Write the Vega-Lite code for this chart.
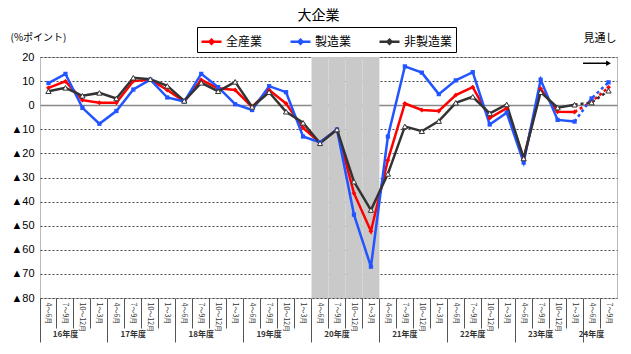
{
  "$schema": "https://vega.github.io/schema/vega-lite/v6.json",
  "width": 577,
  "height": 241,
  "autosize": "none",
  "padding": {"left": 40, "top": 57, "right": 14, "bottom": 56},
  "background": "white",
  "title": {"text": "大企業", "fontSize": 14, "fontWeight": "normal", "font": "Noto Sans CJK JP", "anchor": "middle", "dx": -10, "offset": 4, "color": "#000"},
  "config": {
    "font": "Noto Sans CJK JP",
    "view": {"stroke": "#777", "strokeDash": [1, 1], "strokeWidth": 1}
  },
  "datasets": {
    "bsi": [
      {"period": "16年度 4～6月", "全産業": 7.2, "製造業": 9.2, "非製造業": 5.8, "type": "実績"},
      {"period": "16年度 7～9月", "全産業": 9.9, "製造業": 13.0, "非製造業": 7.2, "type": "実績"},
      {"period": "16年度 10～12月", "全産業": 2.1, "製造業": -1.1, "非製造業": 3.9, "type": "実績"},
      {"period": "16年度 1～3月", "全産業": 1.0, "製造業": -7.7, "非製造業": 5.1, "type": "実績"},
      {"period": "17年度 4～6月", "全産業": 1.0, "製造業": -2.4, "非製造業": 2.8, "type": "実績"},
      {"period": "17年度 7～9月", "全産業": 10.0, "製造業": 6.5, "非製造業": 11.4, "type": "実績"},
      {"period": "17年度 10～12月", "全産業": 10.6, "製造業": 10.6, "非製造業": 10.8, "type": "実績"},
      {"period": "17年度 1～3月", "全産業": 6.3, "製造業": 3.2, "非製造業": 8.0, "type": "実績"},
      {"period": "18年度 4～6月", "全産業": 1.5, "製造業": 1.5, "非製造業": 1.8, "type": "実績"},
      {"period": "18年度 7～9月", "全産業": 10.5, "製造業": 13.0, "非製造業": 9.3, "type": "実績"},
      {"period": "18年度 10～12月", "全産業": 7.0, "製造業": 7.5, "非製造業": 5.8, "type": "実績"},
      {"period": "18年度 1～3月", "全産業": 6.3, "製造業": 0.4, "非製造業": 9.7, "type": "実績"},
      {"period": "19年度 4～6月", "全産業": -0.7, "製造業": -2.0, "非製造業": -0.7, "type": "実績"},
      {"period": "19年度 7～9月", "全産業": 6.3, "製造業": 7.9, "非製造業": 5.4, "type": "実績"},
      {"period": "19年度 10～12月", "全産業": 0.7, "製造業": 5.4, "非製造業": -2.7, "type": "実績"},
      {"period": "19年度 1～3月", "全産業": -9.4, "製造業": -13.0, "非製造業": -7.3, "type": "実績"},
      {"period": "20年度 4～6月", "全産業": -15.5, "製造業": -15.4, "非製造業": -15.8, "type": "実績"},
      {"period": "20年度 7～9月", "全産業": -10.1, "製造業": -10.1, "非製造業": -10.1, "type": "実績"},
      {"period": "20年度 10～12月", "全産業": -36.5, "製造業": -45.4, "非製造業": -31.7, "type": "実績"},
      {"period": "20年度 1～3月", "全産業": -52.3, "製造業": -67.0, "非製造業": -43.5, "type": "実績"},
      {"period": "21年度 4～6月", "全産業": -22.8, "製造業": -13.0, "非製造業": -28.5, "type": "実績"},
      {"period": "21年度 7～9月", "全産業": 0.7, "製造業": 16.1, "非製造業": -8.8, "type": "実績"},
      {"period": "21年度 10～12月", "全産業": -2.0, "製造業": 13.5, "非製造業": -10.8, "type": "実績"},
      {"period": "21年度 1～3月", "全産業": -2.4, "製造業": 4.6, "非製造業": -6.6, "type": "実績"},
      {"period": "22年度 4～6月", "全産業": 4.2, "製造業": 10.3, "非製造業": 1.0, "type": "実績"},
      {"period": "22年度 7～9月", "全産業": 7.5, "製造業": 13.7, "非製造業": 3.5, "type": "実績"},
      {"period": "22年度 10～12月", "全産業": -5.3, "製造業": -8.0, "非製造業": -3.4, "type": "実績"},
      {"period": "22年度 1～3月", "全産業": -1.2, "製造業": -3.1, "非製造業": 0.3, "type": "実績"},
      {"period": "23年度 4～6月", "全産業": -22.1, "製造業": -23.8, "非製造業": -22.1, "type": "実績"},
      {"period": "23年度 7～9月", "全産業": 6.8, "製造業": 10.6, "非製造業": 5.4, "type": "実績"},
      {"period": "23年度 10～12月", "全産業": -2.7, "製造業": -6.1, "非製造業": -1.0, "type": "実績"},
      {"period": "23年度 1～3月", "全産業": -2.8, "製造業": -6.8, "非製造業": 0.2, "type": "実績"},
      {"period": "24年度 4～6月", "全産業": 1.4, "製造業": 2.8, "非製造業": 1.1, "type": "見通し"},
      {"period": "24年度 7～9月", "全産業": 7.4, "製造業": 9.5, "非製造業": 6.0, "type": "見通し"}
    ]
  },
  "data": {"name": "bsi"},
  "transform": [
    {"fold": ["全産業", "製造業", "非製造業"], "as": ["series", "value"]}
  ],
  "resolve": {"axis": {"x": "independent", "y": "shared"}, "scale": {"x": "shared", "y": "shared"}},
  "layer": [
    {
      "transform": [{"filter": "datum.series == '全産業' && indexof(datum.period, '20年度') == 0"}],
      "mark": {"type": "rect", "color": "#c9c9c9"},
      "encoding": {
        "x": {"field": "period", "type": "nominal", "axis": null,
              "scale": {"paddingInner": 0, "paddingOuter": 0, "domain": ["16年度 4～6月","16年度 7～9月","16年度 10～12月","16年度 1～3月","17年度 4～6月","17年度 7～9月","17年度 10～12月","17年度 1～3月","18年度 4～6月","18年度 7～9月","18年度 10～12月","18年度 1～3月","19年度 4～6月","19年度 7～9月","19年度 10～12月","19年度 1～3月","20年度 4～6月","20年度 7～9月","20年度 10～12月","20年度 1～3月","21年度 4～6月","21年度 7～9月","21年度 10～12月","21年度 1～3月","22年度 4～6月","22年度 7～9月","22年度 10～12月","22年度 1～3月","23年度 4～6月","23年度 7～9月","23年度 10～12月","23年度 1～3月","24年度 4～6月","24年度 7～9月"]}}
      }
    },
    {
      "transform": [{"filter": "datum.type == '実績'"}],
      "mark": {"type": "line"},
      "encoding": {
        "x": {"field": "period", "type": "nominal",
              "axis": {"orient": "bottom", "labelExpr": "split(datum.value, ' ')[1]", "labelAngle": 90, "labelFontSize": 7,
                       "labelColor": "#333", "labelPadding": 4, "ticks": false, "domain": false, "grid": false, "title": null,
                       "labelOverlap": false, "labelBound": false}},
        "y": {"field": "value", "type": "quantitative", "scale": {"domain": [-80, 20], "nice": false, "zero": false},
              "axis": {"tickCount": 10,
                       "labelExpr": "datum.value < 0 ? '▲' + (-datum.value) : '' + datum.value",
                       "labelFontSize": 11, "labelColor": "#000", "labelFont": "Liberation Sans",
                       "ticks": false, "domain": false, "labelPadding": 6, "labelOverlap": false,
                       "grid": true,
                       "gridColor": {"condition": {"test": "datum.value === 0", "value": "#888"}, "value": "#444"},
                       "gridDash": {"condition": {"test": "datum.value === 0", "value": []}, "value": [2, 2]},
                       "gridWidth": {"condition": {"test": "datum.value === 0", "value": 1.5}, "value": 1},
                       "title": "(%ポイント)", "titleAngle": 0, "titleAlign": "left", "titleBaseline": "middle",
                       "titleX": -30, "titleY": -20, "titleFontSize": 10, "titleFontWeight": "normal", "titleFont": "Noto Sans CJK JP", "titleColor": "#000"}},
        "color": {"field": "series", "type": "nominal", "scale": {"domain": ["全産業", "製造業", "非製造業"], "range": ["#ff0000", "#2255ff", "#333333"]},
                  "legend": {"orient": "none", "legendX": 157, "legendY": -30, "direction": "horizontal", "title": null,
                             "strokeColor": "#000", "padding": 3, "labelFontSize": 12, "labelFont": "Noto Sans CJK JP", "labelColor": "#000",
                             "symbolType": "M-1,0L1,0M0,-0.2L0.2,0L0,0.2L-0.2,0Z", "symbolSize": 400, "symbolStrokeWidth": 2, "columnPadding": 22, "labelOffset": 3}},
        "strokeWidth": {"field": "series", "type": "nominal", "scale": {"domain": ["全産業", "製造業", "非製造業"], "range": [2.5, 2.5, 1]}, "legend": null}
      }
    },
    {
      "transform": [{"filter": "datum.type == '見通し' || datum.period == '23年度 1～3月'"}],
      "mark": {"type": "line", "strokeDash": [3, 3]},
      "encoding": {
        "x": {"field": "period", "type": "nominal",
              "axis": {"orient": "bottom", "bandPosition": 0, "labels": false, "ticks": true,
                       "tickSize": {"condition": {"test": "indexof(datum.value, '4～6月') >= 0", "value": 44}, "value": 30},
                       "tickColor": "#555", "tickWidth": 1, "domain": false, "grid": false, "title": null}},
        "y": {"field": "value", "type": "quantitative"},
        "color": {"field": "series", "type": "nominal"},
        "strokeWidth": {"field": "series", "type": "nominal", "legend": null}
      }
    },
    {
      "transform": [{"filter": "datum.series == '全産業'"}],
      "mark": {"type": "point", "shape": "diamond", "filled": true, "color": "#ff0000", "size": 24, "opacity": 1},
      "encoding": {
        "x": {"field": "period", "type": "nominal",
              "axis": {"orient": "bottom", "bandPosition": 1,
                       "values": ["16年度 7～9月","17年度 7～9月","18年度 7～9月","19年度 7～9月","20年度 7～9月","21年度 7～9月","22年度 7～9月","23年度 7～9月","24年度 4～6月"],
                       "labelExpr": "split(datum.value, ' ')[0]", "labelAngle": 0, "labelFontSize": 8, "labelFontWeight": "bold",
                       "labelColor": "#333", "labelPadding": 32, "ticks": false, "domain": false, "grid": false, "title": null}},
        "y": {"field": "value", "type": "quantitative"}
      }
    },
    {
      "transform": [{"filter": "datum.series == '製造業'"}],
      "mark": {"type": "point", "shape": "square", "filled": true, "color": "#2255ff", "size": 18, "opacity": 1},
      "encoding": {
        "x": {"field": "period", "type": "nominal", "axis": null},
        "y": {"field": "value", "type": "quantitative"}
      }
    },
    {
      "transform": [{"filter": "datum.series == '非製造業'"}],
      "mark": {"type": "point", "shape": "triangle-up", "fill": "#ffffff", "stroke": "#333333", "strokeWidth": 1, "size": 28, "opacity": 1},
      "encoding": {
        "x": {"field": "period", "type": "nominal", "axis": null},
        "y": {"field": "value", "type": "quantitative"}
      }
    },
    {
      "data": {"values": [{"label": "見通し", "from": "24年度 4～6月", "to": "24年度 7～9月"}]},
      "mark": {"type": "rule", "color": "#000", "strokeWidth": 1.5},
      "encoding": {
        "x": {"field": "from", "type": "nominal", "bandPosition": 0, "axis": null},
        "x2": {"field": "to"},
        "y": {"datum": 17.4, "type": "quantitative"}
      }
    },
    {
      "data": {"values": [{"label": "見通し", "to": "24年度 7～9月"}]},
      "mark": {"type": "point", "shape": "triangle-right", "filled": true, "color": "#000", "size": 30, "opacity": 1},
      "encoding": {
        "x": {"field": "to", "type": "nominal", "axis": null},
        "y": {"datum": 17.4, "type": "quantitative"}
      }
    },
    {
      "data": {"values": [{"label": "見通し", "from": "24年度 4～6月"}]},
      "mark": {"type": "text", "fontSize": 11, "color": "#000", "font": "Noto Sans CJK JP"},
      "encoding": {
        "x": {"field": "from", "type": "nominal", "bandPosition": 1, "axis": null},
        "y": {"datum": 27.5, "type": "quantitative"},
        "text": {"field": "label"}
      }
    }
  ]
}
